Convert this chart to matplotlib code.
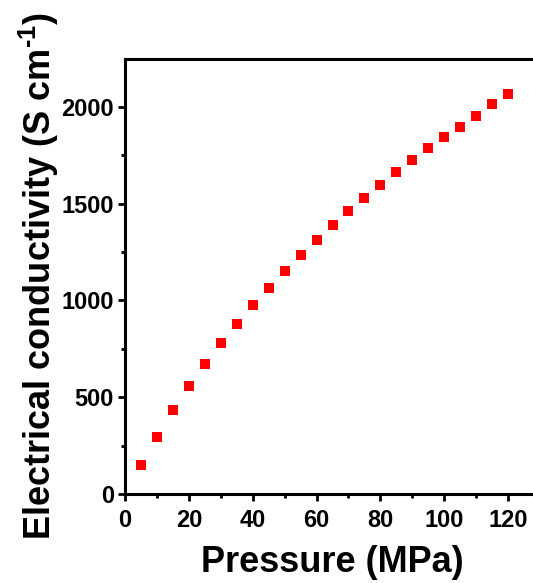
import matplotlib
matplotlib.use("Agg")
import matplotlib.pyplot as plt
from matplotlib.ticker import MultipleLocator

plt.rcParams['font.family'] = ['Liberation Sans', 'DejaVu Sans']
plt.rcParams['font.weight'] = 'bold'
plt.rcParams['mathtext.fontset'] = 'custom'
plt.rcParams['mathtext.rm'] = 'Liberation Sans:bold'
plt.rcParams['mathtext.it'] = 'Liberation Sans:bold'
plt.rcParams['mathtext.bf'] = 'Liberation Sans:bold'

pressure = [5, 10, 15, 20, 25, 30, 35, 40, 45, 50, 55, 60,
            65, 70, 75, 80, 85, 90, 95, 100, 105, 110, 115, 120]
conductivity = [148, 296, 432, 558, 671, 778, 878, 976, 1066, 1152, 1234, 1313,
                1391, 1463, 1529, 1596, 1665, 1723, 1786, 1842, 1897, 1951, 2013, 2065]

fig = plt.figure(figsize=(5.33, 5.83), dpi=100)
ax = fig.add_axes([125/533, 89/583, 415/533, 435/583])
ax.plot(pressure, conductivity, 's', color='#ff0000', markersize=7, markeredgewidth=0)

ax.set_xlim(0, 130)
ax.set_ylim(0, 2247)
ax.xaxis.set_major_locator(MultipleLocator(20))
ax.xaxis.set_minor_locator(MultipleLocator(10))
ax.yaxis.set_major_locator(MultipleLocator(500))
ax.yaxis.set_minor_locator(MultipleLocator(250))

for s in ax.spines.values():
    s.set_linewidth(2.2)
ax.spines['right'].set_visible(False)
ax.tick_params(which='major', direction='out', length=5, width=2, labelsize=17)
ax.tick_params(which='minor', direction='out', length=3, width=2)
ax.tick_params(axis='x', which='major', pad=6)
ax.tick_params(axis='y', which='major', pad=3)
ax.tick_params(top=False, right=False)

ax.set_xlabel('Pressure (MPa)', fontsize=26, fontweight='bold', labelpad=9)
ax.set_ylabel(r'Electrical conductivity (S cm$^{\text{-1}}$)', fontsize=26, fontweight='bold', labelpad=0)

fig.savefig('out.png', dpi=100)
